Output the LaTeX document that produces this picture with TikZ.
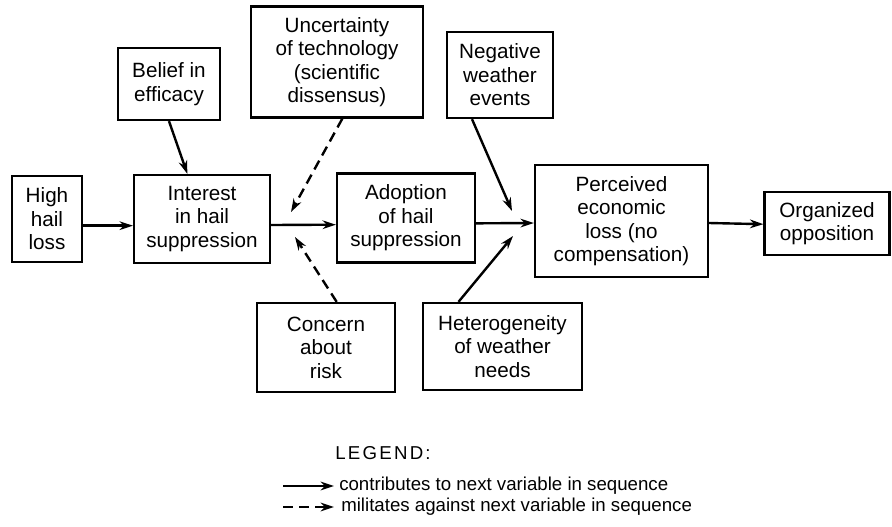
\documentclass[tikz,border=0pt]{standalone}
\usepackage{fontspec}
\setmainfont{Liberation Sans}
\usepackage{tikz}
\usetikzlibrary{arrows.meta, positioning}

\begin{document}
\begin{tikzpicture}[x=0.75pt, y=-0.75pt]
  \tikzstyle{box} = [draw=black, line width=1.7pt, align=center, inner sep=2pt, font=\fontsize{15.5pt}{17.6pt}\selectfont]
  \tikzstyle{leads} = [line width=1.8pt, -{Stealth[length=10pt, width=6.5pt]}]
  \tikzstyle{against} = [leads, dash pattern=on 7.5pt off 4.5pt]
  \tikzstyle{legendtext} = [anchor=west, inner sep=0pt, font=\fontsize{14pt}{16pt}\selectfont]
  \useasboundingbox (0,0) rectangle (892,526);
  \node[box, minimum width=52.5pt, minimum height=64.5pt] (high) at (47,219) {High\\hail\\loss};
  \node[box, minimum width=102pt, minimum height=66pt] (interest) at (202,219) {Interest\\in hail\\suppression};
  \node[box, minimum width=76.5pt, minimum height=54pt] (belief) at (169,84) {Belief in\\efficacy};
  \node[box, minimum width=129pt, minimum height=83.25pt] (uncert) at (337,62) {Uncertainty\\of technology\\(scientific\\dissensus)};
  \node[box, minimum width=79.5pt, minimum height=64.5pt] (negative) at (500,75) {Negative\\weather\\events};
  \node[box, minimum width=103.5pt, minimum height=66.75pt] (adoption) at (406,218) {Adoption\\of hail\\suppression};
  \node[box, minimum width=129.75pt, minimum height=84pt] (perceived) at (621.5,221) {Perceived\\economic\\loss (no\\compensation)};
  \node[box, minimum width=93.75pt, minimum height=47.25pt] (organized) at (827,223.5) {Organized\\opposition};
  \node[box, minimum width=103.5pt, minimum height=66.75pt] (concern) at (326,347.5) {Concern\\about\\risk};
  \node[box, minimum width=119.25pt, minimum height=65.25pt] (hetero) at (502.5,346.5) {Heterogeneity\\of weather\\needs};
  \coordinate (uncend) at (291,212);
  \coordinate (conend) at (295,237);
  \coordinate (negend) at (512,211);
  \coordinate (hetend) at (513,236);
  \draw[leads] ([yshift=-5pt]high.east) -- ([yshift=-5pt]interest.west);
  \draw[leads] ([yshift=-4.5pt]interest.east) -- ([yshift=-5pt]adoption.west);
  \draw[leads] ([yshift=-4pt]adoption.east) -- ([yshift=-1.5pt]perceived.west);
  \draw[leads] ([yshift=-1.5pt]perceived.east) -- ([yshift=-0.5pt]organized.west);
  \draw[leads] (belief.south) -- ([xshift=-11pt]interest.north);
  \draw[leads] ([xshift=-21pt]negative.south) -- (negend);
  \draw[leads] ([xshift=-33pt]hetero.north) -- (hetend);
  \draw[against] ([xshift=4pt]uncert.south) -- (uncend);
  \draw[against] ([xshift=8pt]concern.north) -- (conend);
  \node[legendtext] (legend) at (335,453) {\addfontfeature{LetterSpace=12}LEGEND:};
  \coordinate (solida) at (283,486);
  \coordinate (solidb) at (334,486);
  \coordinate (dasha) at (283,507);
  \coordinate (dashb) at (334,507);
  \draw[leads, line width=1.5pt] (solida) -- (solidb);
  \draw[against, line width=1.5pt] (dasha) -- (dashb);
  \node[legendtext] (contrib) at (339,486) {contributes to next variable in sequence};
  \node[legendtext] (militate) at (341,507) {militates against next variable in sequence};
\end{tikzpicture}
\end{document}
